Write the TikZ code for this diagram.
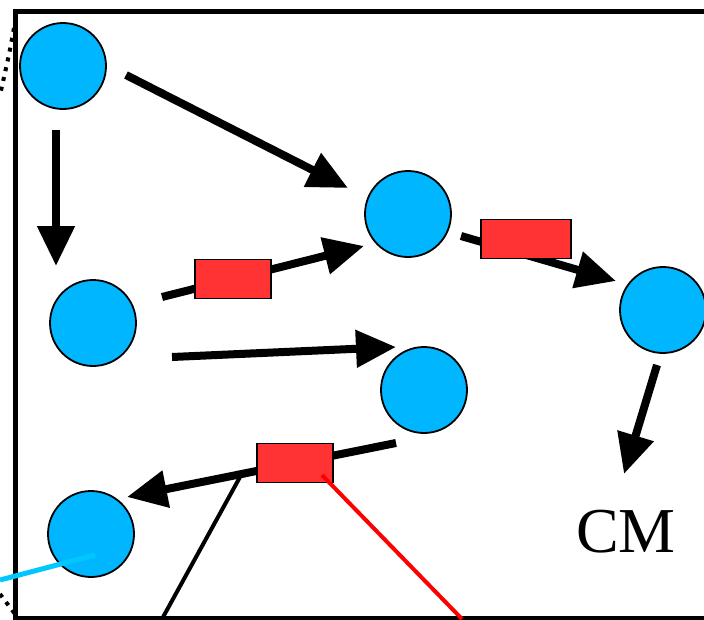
\documentclass[tikz,border=0pt]{standalone}
\usepackage{fontspec}
\setmainfont{Liberation Serif}
\usetikzlibrary{arrows.meta}
\definecolor{nodeblue}{RGB}{0,183,255}
\definecolor{boxred}{RGB}{255,51,51}
\definecolor{linkcyan}{RGB}{0,200,255}
\begin{document}
\begin{tikzpicture}[x=1pt,y=-1pt,
  agent/.style={circle,draw=black,line width=1.8pt,fill=nodeblue,minimum size=86pt,inner sep=0pt},
  flow/.style={line width=8pt,-{Triangle[length=40pt,width=36pt]}},
  gate/.style={rectangle,draw=black,line width=1.4pt,fill=boxred,inner sep=0pt},
  dotline/.style={line width=4pt,dash pattern=on 4pt off 6pt}]
\useasboundingbox (0,0) rectangle (704,619);
\fill[white] (0,0) rectangle (704,619);
% frame
\draw[line width=5pt] (704,11.5) -- (15.5,11.5) -- (15.5,618) -- (704,618);
% dotted outer arcs
\draw[dotline] (14,28) .. controls (9,55) .. (0,95);
\draw[dotline] (0,594) -- (15,614);
% circles
\node[agent] (c1) at (63,66) {};
\node[agent] (c2) at (408,214) {};
\node[agent] (c3) at (93,323) {};
\node[agent] (c4) at (424,390) {};
\node[agent] (c5) at (663,310) {};
\node[agent] (c6) at (91,534) {};
% arrow endpoints
\coordinate (a1s) at (126,75);   \coordinate (a1e) at (348,188);
\coordinate (a2s) at (56,130);   \coordinate (a2e) at (56,266);
\coordinate (a3s) at (162,297);  \coordinate (a3e) at (364,246);
\coordinate (a4s) at (172,357);  \coordinate (a4e) at (396,347);
\coordinate (a5s) at (461,236);  \coordinate (a5e) at (616,281);
\coordinate (a6s) at (657,365);  \coordinate (a6e) at (624,474);
\coordinate (a7s) at (396,443);  \coordinate (a7e) at (127,497);
% side lines from gate 3
\coordinate (blk) at (240,477);  \coordinate (blkend) at (162,619);
\coordinate (redend) at (462,619);
\draw[line width=4pt] (blk) -- (blkend);
% arrows
\draw[flow] (a1s) -- (a1e);
\draw[flow] (a2s) -- (a2e);
\draw[flow] (a3s) -- (a3e);
\draw[flow] (a4s) -- (a4e);
\draw[flow] (a5s) -- (a5e);
\draw[flow] (a6s) -- (a6e);
\draw[flow] (a7s) -- (a7e);
% gates
\node[gate,minimum width=76pt,minimum height=39pt] (g1) at (233,279) {};
\node[gate,minimum width=90pt,minimum height=39pt] (g2) at (526,239) {};
\node[gate,minimum width=76pt,minimum height=39pt] (g3) at (295,463) {};
\coordinate (redstart) at (322,475);
\draw[red,line width=4pt] (redstart) -- (redend);
% cyan link
\coordinate (cys) at (95,555); \coordinate (cye) at (0,580);
\draw[linkcyan,line width=5pt] (cys) -- (cye);
% label
\node[font=\fontsize{64}{64}\selectfont,inner sep=0pt] (cm) at (626,532) {CM};
\end{tikzpicture}
\end{document}
